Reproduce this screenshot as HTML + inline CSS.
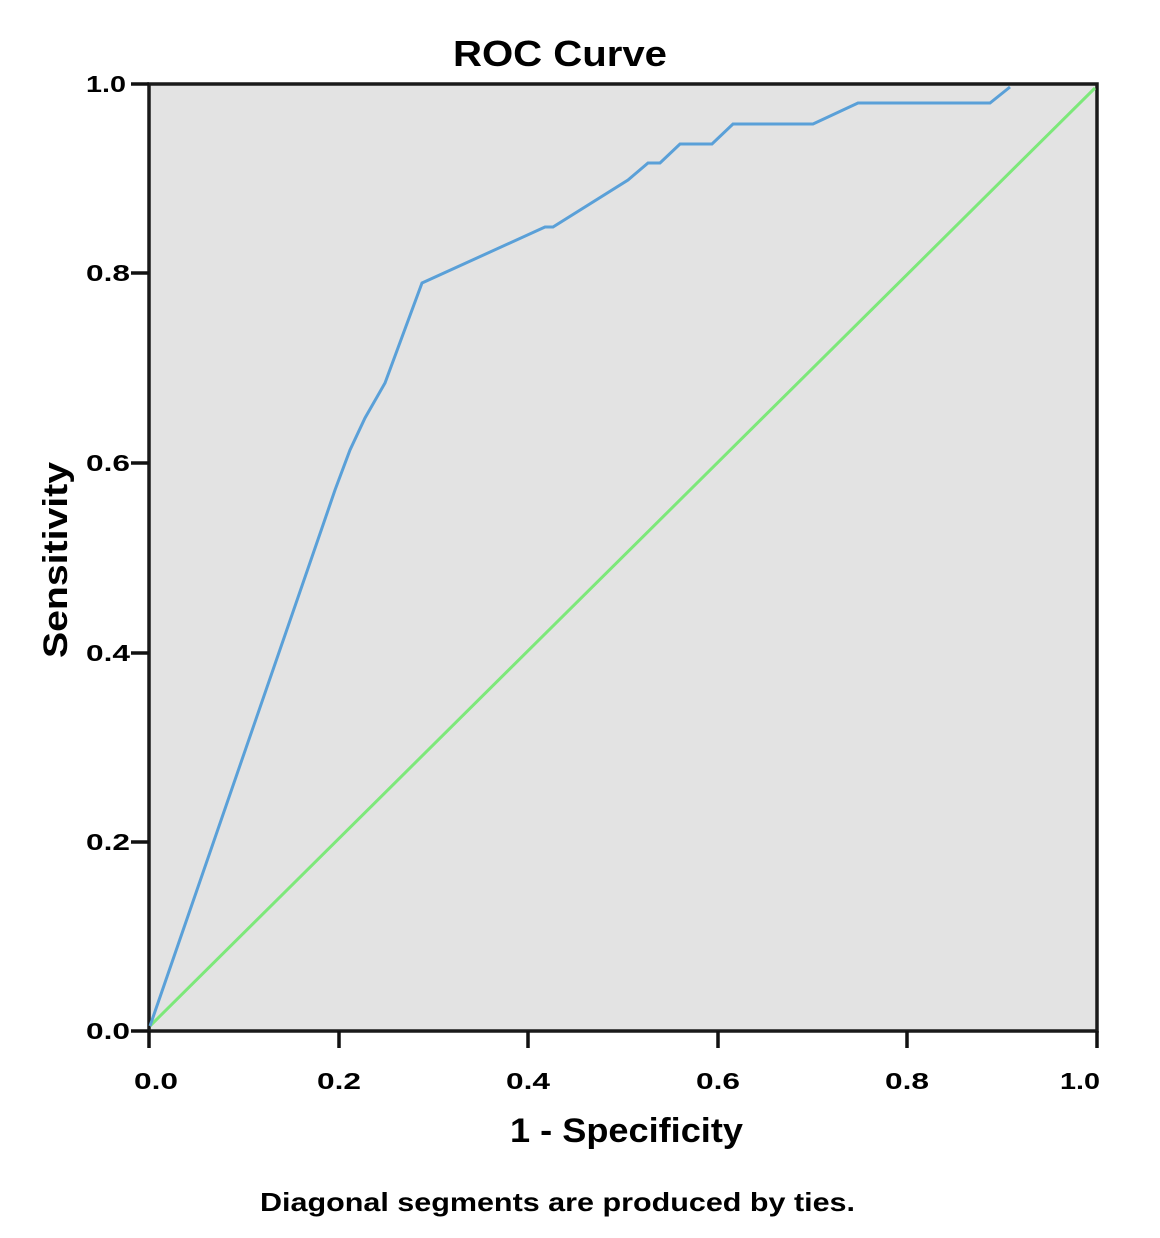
<!DOCTYPE html>
<html><head><style>body{margin:0;background:#fff}</style></head><body>
<svg width="1160" height="1233" xmlns="http://www.w3.org/2000/svg" font-family="Liberation Sans, sans-serif" font-weight="bold">
<rect x="149" y="84" width="948" height="947" fill="#e3e3e3" stroke="#1a1a1a" stroke-width="3.5"/>
<g stroke="#111" stroke-width="3.5">
<line x1="131" y1="84" x2="149" y2="84"/><line x1="131" y1="273" x2="149" y2="273"/><line x1="131" y1="463" x2="149" y2="463"/><line x1="131" y1="653" x2="149" y2="653"/><line x1="131" y1="842" x2="149" y2="842"/><line x1="131" y1="1031" x2="149" y2="1031"/>
<line x1="149" y1="1031" x2="149" y2="1048"/><line x1="339" y1="1031" x2="339" y2="1048"/><line x1="528" y1="1031" x2="528" y2="1048"/><line x1="718" y1="1031" x2="718" y2="1048"/><line x1="907" y1="1031" x2="907" y2="1048"/><line x1="1097" y1="1031" x2="1097" y2="1048"/>
</g>
<g font-size="23" fill="#000">
<text x="86" y="92" textLength="40" lengthAdjust="spacingAndGlyphs">1.0</text>
<text x="86" y="281" textLength="44" lengthAdjust="spacingAndGlyphs">0.8</text>
<text x="86" y="471" textLength="44" lengthAdjust="spacingAndGlyphs">0.6</text>
<text x="86" y="661" textLength="44" lengthAdjust="spacingAndGlyphs">0.4</text>
<text x="86" y="850" textLength="44" lengthAdjust="spacingAndGlyphs">0.2</text>
<text x="86" y="1039" textLength="44" lengthAdjust="spacingAndGlyphs">0.0</text>
</g>
<g font-size="23" fill="#000">
<text x="134" y="1089" textLength="44" lengthAdjust="spacingAndGlyphs">0.0</text>
<text x="317" y="1089" textLength="44" lengthAdjust="spacingAndGlyphs">0.2</text>
<text x="506" y="1089" textLength="44" lengthAdjust="spacingAndGlyphs">0.4</text>
<text x="696" y="1089" textLength="44" lengthAdjust="spacingAndGlyphs">0.6</text>
<text x="885" y="1089" textLength="44" lengthAdjust="spacingAndGlyphs">0.8</text>
<text x="1060" y="1089" textLength="40" lengthAdjust="spacingAndGlyphs">1.0</text>
</g>
<text x="453" y="66" font-size="36" textLength="214" lengthAdjust="spacingAndGlyphs">ROC Curve</text>
<text x="510" y="1142" font-size="34" textLength="233" lengthAdjust="spacingAndGlyphs">1 - Specificity</text>
<text transform="translate(67,658) rotate(-90)" font-size="34" textLength="196" lengthAdjust="spacingAndGlyphs">Sensitivity</text>
<text x="260" y="1211" font-size="26" textLength="595" lengthAdjust="spacingAndGlyphs">Diagonal segments are produced by ties.</text>
<line x1="150" y1="1026" x2="1095" y2="88" stroke="#7de87a" stroke-width="3"/>
<polyline fill="none" stroke="#5aa0d8" stroke-width="3" points="150,1026 323,525 335,490 350,450 365,418 385,383 422,283 545,227 553,227 628,180 648,163 660,163 680,144 712,144 733,124 813,124 858,103 990,103 1010,87"/>
</svg>
</body></html>
